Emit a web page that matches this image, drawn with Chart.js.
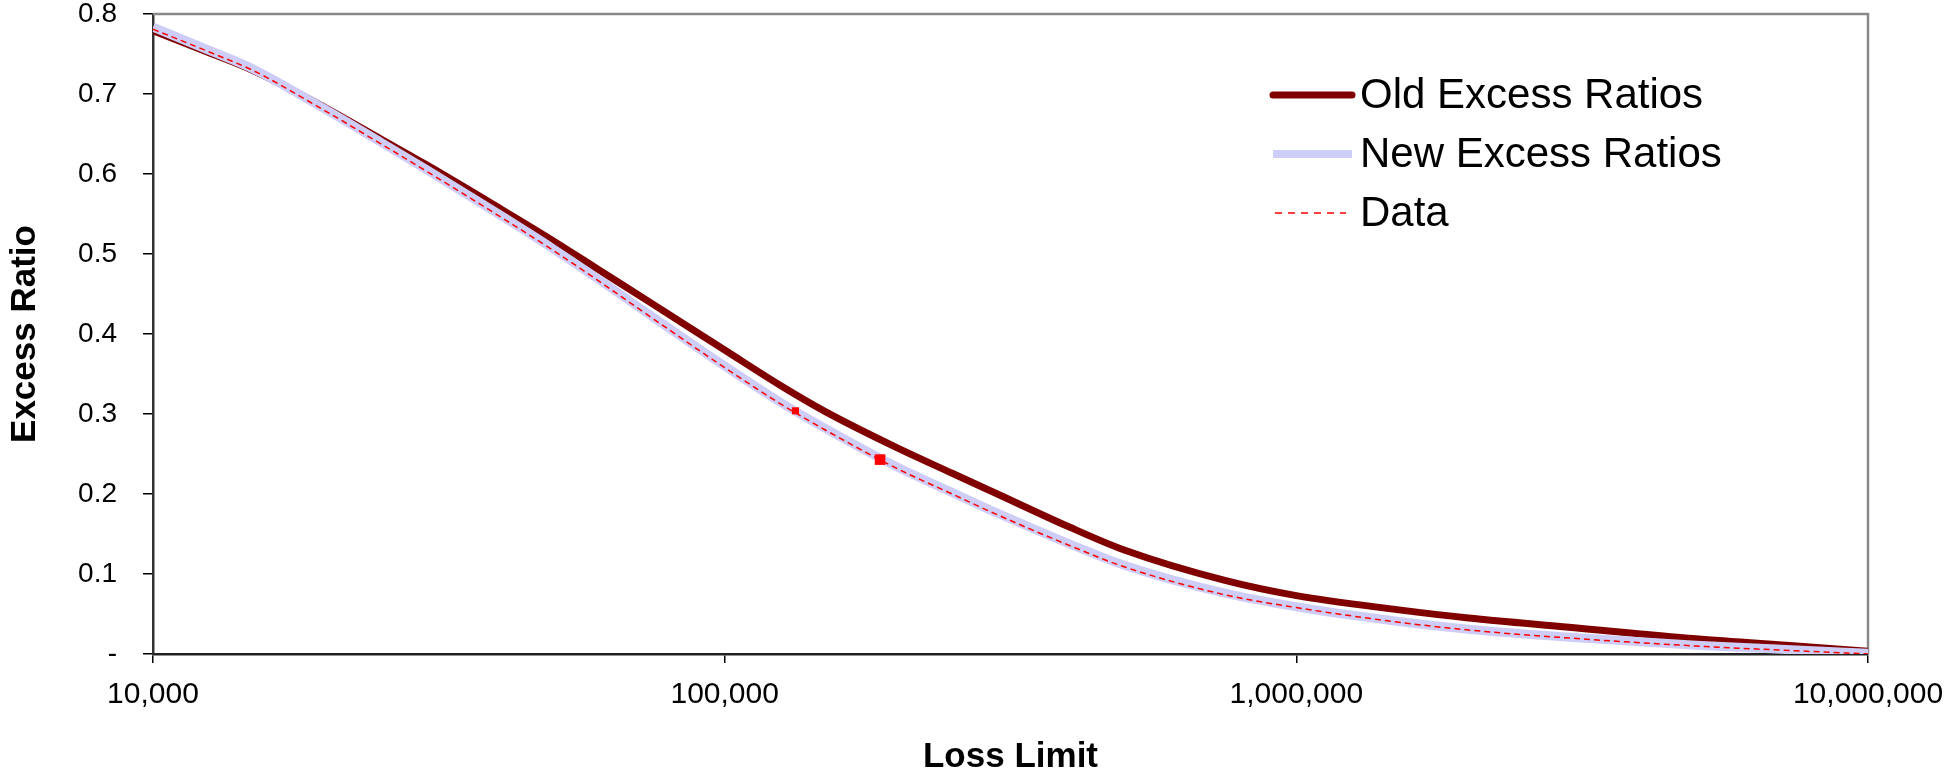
<!DOCTYPE html>
<html><head><meta charset="utf-8">
<script src="https://cdn.jsdelivr.net/npm/chart.js@4/dist/chart.umd.min.js"></script>
<style>html,body{margin:0;padding:0;background:#fff;} #wrap{width:1949px;height:768px;position:relative;}</style>
</head><body><div id="wrap"><canvas id="c" width="1949" height="768"></canvas></div>
<script>
const lossLimits = [10000,12500,15000,20000,25000,30000,40000,50000,60000,75000,100000,125000,150000,200000,250000,300000,400000,500000,750000,1000000,1500000,2000000,3000000,5000000,7500000,10000000];
const oldExcessRatios = [0.779,0.752,0.729,0.683,0.644,0.612,0.559,0.517,0.481,0.437,0.380,0.336,0.303,0.258,0.226,0.200,0.159,0.130,0.092,0.073,0.0555,0.045,0.0335,0.019,0.010,0.0035];
const newExcessRatios = [0.7835,0.755,0.731,0.681,0.640,0.606,0.551,0.507,0.469,0.421,0.360,0.315,0.282,0.234,0.202,0.176,0.138,0.111,0.076,0.059,0.041,0.031,0.021,0.011,0.005,0.001];
const dataRatios = [0.781,0.753,0.729,0.679,0.638,0.604,0.549,0.505,0.467,0.419,0.358,0.313,0.280,0.232,0.200,0.174,0.136,0.109,0.074,0.058,0.040,0.030,0.020,0.010,0.004,0.000];
const markerLimits = [133000, 187000];
const markerRatios = [0.304, 0.243];
const xTickValues = [10000, 100000, 1000000, 10000000];
const xTickLabels = ['10,000', '100,000', '1,000,000', '10,000,000'];
const yTickValues = [0, 0.1, 0.2, 0.3, 0.4, 0.5, 0.6, 0.7, 0.8];
const yTickLabels = ['-', '0.1', '0.2', '0.3', '0.4', '0.5', '0.6', '0.7', '0.8'];

const FONT = '"Liberation Sans", Arial, sans-serif';
const pts = (xs, ys) => xs.map((x, i) => ({x: x, y: ys[i]}));

const framePlugin = {
  id: 'frame',
  beforeDatasetsDraw(chart) {
    const {ctx, chartArea: a} = chart;
    ctx.save();
    ctx.strokeStyle = '#8a8a8a';
    ctx.lineWidth = 2.5;
    ctx.beginPath();
    ctx.moveTo(a.left, a.top);
    ctx.lineTo(a.right, a.top);
    ctx.lineTo(a.right, a.bottom);
    ctx.stroke();
    ctx.restore();
  }
};

const legendPlugin = {
  id: 'customLegend',
  afterDraw(chart) {
    const ctx = chart.ctx;
    const ds = chart.data.datasets;
    const rows = [95, 154, 213];
    ctx.save();
    ctx.font = '42px ' + FONT;
    ctx.fillStyle = '#000';
    ctx.textBaseline = 'middle';
    ctx.textAlign = 'left';
    for (let i = 0; i < 3; i++) {
      const d = ds[i];
      const y = rows[i];
      ctx.save();
      ctx.strokeStyle = d.borderColor;
      ctx.lineWidth = i === 0 ? 7 : (i === 1 ? 8 : 1.5);
      ctx.lineCap = i === 0 ? 'round' : 'butt';
      ctx.setLineDash(i === 2 ? [7, 6] : []);
      ctx.beginPath();
      ctx.moveTo(i === 2 ? 1275 : 1273, y);
      ctx.lineTo(i === 2 ? 1346 : 1352, y);
      ctx.stroke();
      ctx.restore();
      ctx.fillText(d.label, 1360, y + 1);
    }
    ctx.restore();
  }
};

new Chart(document.getElementById('c').getContext('2d'), {
  type: 'line',
  data: {
    datasets: [
      {label: 'Old Excess Ratios', data: pts(lossLimits, oldExcessRatios), borderColor: '#800000', borderWidth: 7,
       pointRadius: 0, cubicInterpolationMode: 'monotone', borderJoinStyle: 'round', order: 3},
      {label: 'New Excess Ratios', data: pts(lossLimits, newExcessRatios), borderColor: '#CDCDF8', borderWidth: 9,
       pointRadius: 0, cubicInterpolationMode: 'monotone', order: 2},
      {label: 'Data', data: pts(lossLimits, dataRatios), borderColor: '#FF0000', borderWidth: 1.5, borderDash: [6, 4],
       pointRadius: 0, cubicInterpolationMode: 'monotone', order: 1},
      {label: 'Data points', data: pts(markerLimits, markerRatios), showLine: false, pointStyle: 'rect',
       pointRadius: [5, 7.5], pointBackgroundColor: '#FF0000', pointBorderWidth: 0, borderColor: '#FF0000', order: 0}
    ]
  },
  options: {
    responsive: false,
    animation: false,
    layout: {padding: {left: 0, top: 14, right: 81, bottom: 0}},
    plugins: {legend: {display: false}, tooltip: {enabled: false}},
    scales: {
      x: {
        type: 'logarithmic', min: 10000, max: 10000000,
        afterBuildTicks: s => { s.ticks = xTickValues.map(v => ({value: v})); },
        afterFit: s => { s.height = 114; s.paddingLeft = 0; s.paddingRight = 0; },
        ticks: {autoSkip: false, maxRotation: 0, color: '#000', padding: 14,
                font: {family: FONT, size: 30},
                callback: (v, i) => xTickLabels[i]},
        grid: {drawOnChartArea: false, drawTicks: true, tickLength: 9, color: '#000', lineWidth: 1.5},
        border: {display: true, color: '#222', width: 2.5},
        title: {display: true, text: 'Loss Limit', color: '#000',
                font: {family: FONT, size: 35, weight: 'bold', lineHeight: 1}, padding: {top: 0, bottom: -7}}
      },
      y: {
        min: 0, max: 0.8,
        afterBuildTicks: s => { s.ticks = yTickValues.map(v => ({value: v})); },
        afterFit: s => { s.width = 153; s.paddingTop = 0; s.paddingBottom = 0; },
        ticks: {color: '#000', padding: 26, font: {family: FONT, size: 28},
                callback: (v, i) => yTickLabels[i]},
        grid: {drawOnChartArea: false, drawTicks: true, tickLength: 10, color: '#000', lineWidth: 1.5},
        border: {display: true, color: '#333', width: 2.5},
        title: {display: true, text: 'Excess Ratio', color: '#000',
                font: {family: FONT, size: 35, weight: 'bold', lineHeight: 1}, padding: {top: 8, bottom: 0}}
      }
    }
  },
  plugins: [framePlugin, legendPlugin]
});
</script>
</body></html>
